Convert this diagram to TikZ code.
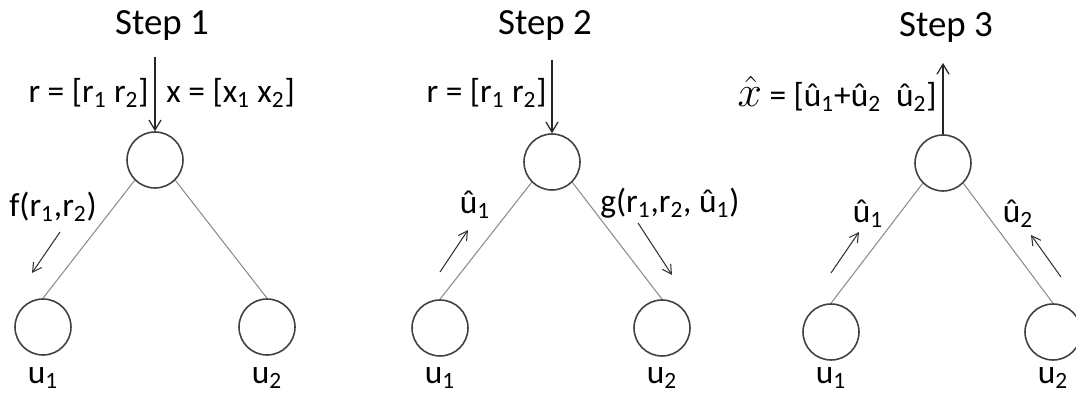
\documentclass[tikz,border=0pt]{standalone}
\usepackage{fontspec}
\setmainfont{Carlito}
\usepackage{tikz}
\usetikzlibrary{arrows.meta}
\newcommand{\lo}[1]{\textsubscript{#1}}
\newcommand{\xhat}{{\fontsize{25}{28}\selectfont$\hat{x}$}}

\begin{document}
\begin{tikzpicture}[x=0.02cm, y=-0.02cm,
  unit/.style={circle, draw=black!75, line width=0.9pt,
               minimum size=1.12cm, inner sep=0pt},
  edge/.style={draw=black!45, line width=0.6pt},
  flow/.style={-{Straight Barb[length=2mm,width=2.4mm]}, line width=0.7pt, draw=black!85},
  hint/.style={-{Straight Barb[length=1.8mm,width=2mm]}, line width=0.6pt, draw=black!80},
  lbl/.style={font=\fontsize{19}{22}\selectfont, inner sep=0pt},
  title/.style={font=\fontsize{21}{24}\selectfont, inner sep=0pt}
]
\useasboundingbox (0,0) rectangle (1076,394);
\node[title] (s1) at (162,26) {Step 1};
\node[unit] (t1) at (155,160) {};
\node[unit] (a1) at (43,327) {};
\node[unit] (b1) at (267,327) {};
\coordinate (in1) at (155,57);
\draw[flow] (in1) -- (t1.north);
\node[lbl, anchor=base east] (r1) at (149,103) {r = [r\lo1 r\lo2]};
\node[lbl, anchor=base west] (x1) at (166,103) {x = [x\lo1 x\lo2]};
\draw[edge] (t1.south west) -- (a1.north);
\draw[edge] (t1.south east) -- (b1.north);
\node[lbl, anchor=base] (f1) at (53,217) {f(r\lo1,r\lo2)};
\coordinate (f1s) at (60,232);
\coordinate (f1e) at (32,273);
\draw[hint] (f1s) -- (f1e);
\node[lbl, anchor=base] (ua1) at (43,384) {u\lo1};
\node[lbl, anchor=base] (ub1) at (267,384) {u\lo2};

\node[title] (s2) at (545,26) {Step 2};
\node[unit] (t2) at (552,162) {};
\node[unit] (a2) at (440,328) {};
\node[unit] (b2) at (662,328) {};
\coordinate (in2) at (552,60);
\draw[flow] (in2) -- (t2.north);
\node[lbl, anchor=base east] (r2) at (547,103) {r = [r\lo1 r\lo2]};
\draw[edge] (t2.south west) -- (a2.north);
\draw[edge] (t2.south east) -- (b2.north);
\node[lbl, anchor=base] (h2) at (475,214) {û\lo1};
\coordinate (h2s) at (440,272);
\coordinate (h2e) at (468,230);
\draw[hint] (h2s) -- (h2e);
\node[lbl, anchor=base west] (g2) at (600,213) {g(r\lo1,r\lo2, û\lo1)};
\coordinate (g2s) at (638,223);
\coordinate (g2e) at (672,275);
\draw[hint] (g2s) -- (g2e);
\node[lbl, anchor=base] (ua2) at (440,384) {u\lo1};
\node[lbl, anchor=base] (ub2) at (662,384) {u\lo2};

\node[title] (s3) at (946,28) {Step 3};
\node[unit] (t3) at (943,163) {};
\node[unit] (a3) at (831,332) {};
\node[unit] (b3) at (1053,332) {};
\coordinate (out3) at (943,63);
\draw[flow] (t3.north) -- (out3);
\node[lbl, anchor=base east] (x3) at (937,107) {\xhat{} = [û\lo1+û\lo2\ \ û\lo2]};
\draw[edge] (t3.south west) -- (a3.north);
\draw[edge] (t3.south east) -- (b3.north);
\node[lbl, anchor=base] (ha3) at (868,223) {û\lo1};
\coordinate (ha3s) at (831,273);
\coordinate (ha3e) at (859,232);
\draw[hint] (ha3s) -- (ha3e);
\node[lbl, anchor=base] (hb3) at (1018,223) {û\lo2};
\coordinate (hb3s) at (1061,277);
\coordinate (hb3e) at (1031,235);
\draw[hint] (hb3s) -- (hb3e);
\node[lbl, anchor=base] (ua3) at (831,384) {u\lo1};
\node[lbl, anchor=base] (ub3) at (1053,384) {u\lo2};
\end{tikzpicture}
\end{document}
